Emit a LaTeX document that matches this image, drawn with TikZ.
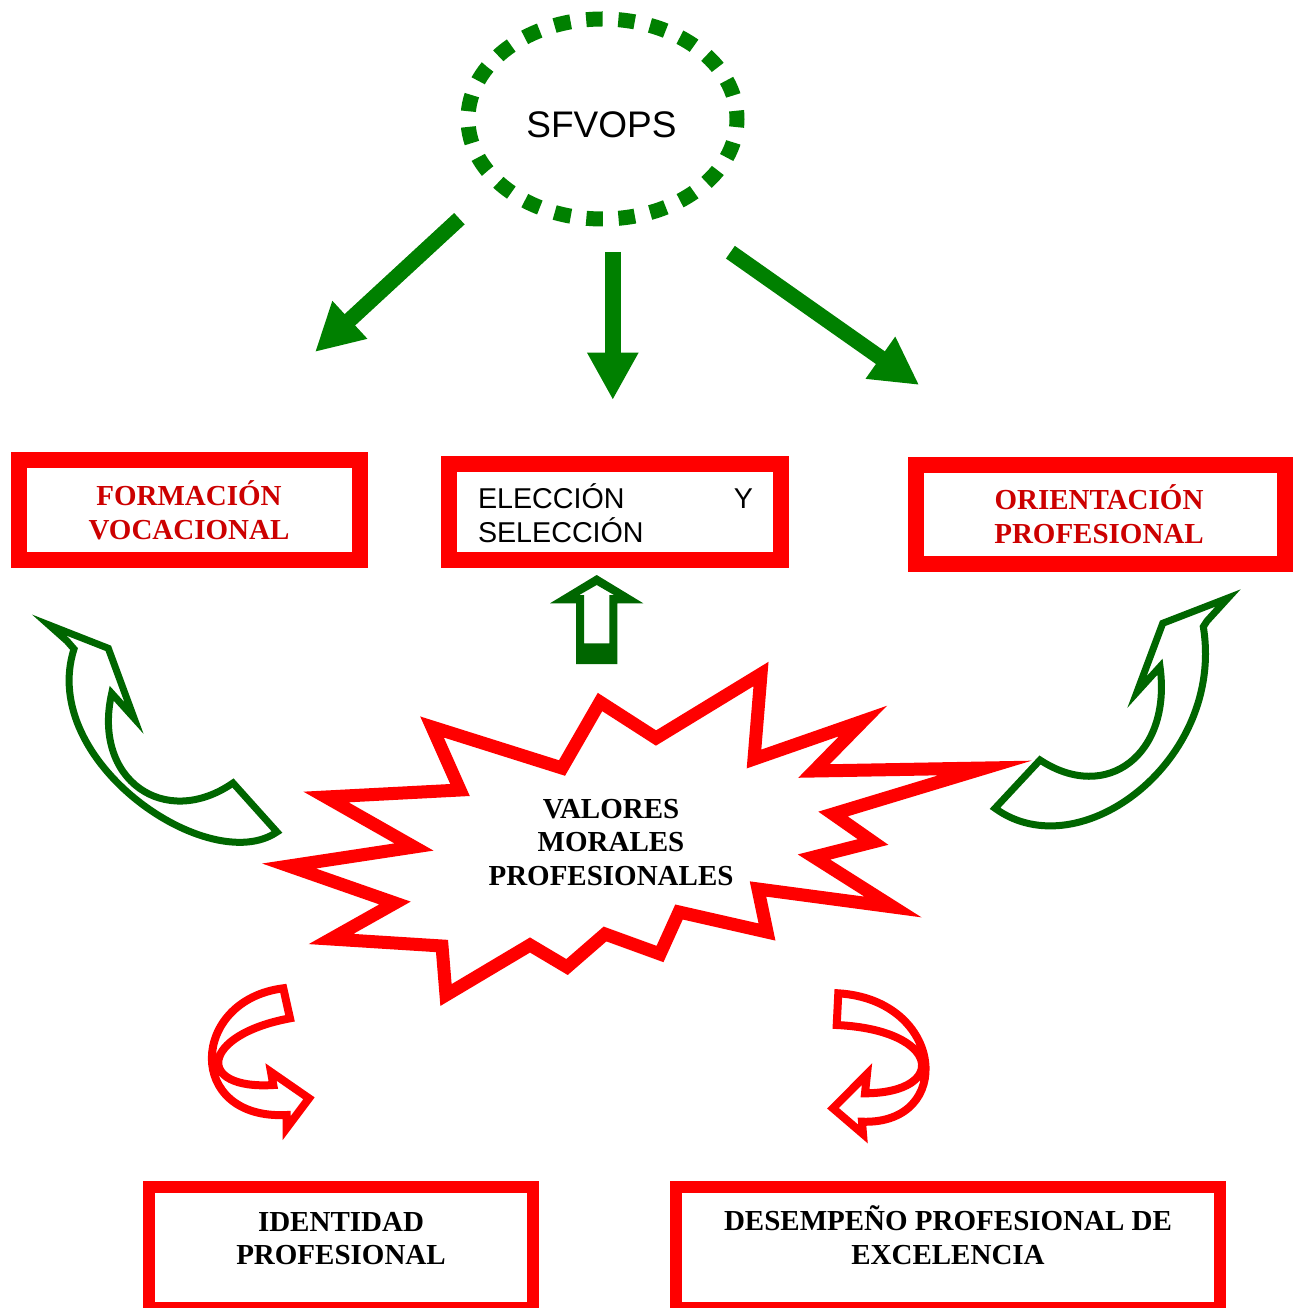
\documentclass[tikz,border=0pt]{standalone}
\usepackage{fontspec}
\setmainfont{Liberation Serif}
\newfontfamily\arialfont{Liberation Sans}
\usetikzlibrary{arrows.meta,shapes.geometric}
\definecolor{arrowgreen}{RGB}{0,128,0}
\definecolor{darkgreen}{RGB}{0,102,0}
\definecolor{boxred}{RGB}{255,0,0}
\definecolor{textred}{RGB}{204,0,0}
\newcommand{\boxline}{12pt}
\newcommand{\lowline}{9pt}
\newcommand{\lblfont}{\bfseries\fontsize{21.75}{25.2}\selectfont}

\begin{document}
\begin{tikzpicture}[x=0.75pt, y=-0.75pt,
    redbox/.style={draw=boxred, rectangle, inner sep=0pt},
    lbl/.style={font=\lblfont, align=center, inner sep=0pt},
    greenarrow/.style={arrowgreen, line width=11.6pt, -{Triangle[length=35.6pt, width=36pt]}},
    curvegreen/.style={darkgreen, line width=5.25pt, line join=miter},
    curvered/.style={boxred, line width=6pt, line join=miter}]
        \useasboundingbox (0,0) rectangle (1300,1308);
        \clip (0,0) rectangle (1300,1308);

        %source
        \node[draw=arrowgreen, ellipse, line width=11.25pt, dash pattern=on 12.4pt off 11.76pt, dash phase=6.2pt,
              minimum width=201.75pt, minimum height=150pt, name=sfvops] at (602.5,119) {};
        \node[font=\arialfont\fontsize{27.75}{33}\selectfont, inner sep=0pt, name=sfvopstxt] at (601.5,125) {SFVOPS};

        %straight arrows
        \coordinate (leftstart)  at (459.4,218.7);  \coordinate (leftend)  at (315,352);
        \coordinate (midstart)   at (612.8,252);    \coordinate (midend)   at (612.8,400);
        \coordinate (rightstart) at (730.4,252.2);  \coordinate (rightend) at (919.2,385);
        \draw[greenarrow] (leftstart)  -- (leftend);
        \draw[greenarrow] (midstart)   -- (midend);
        \draw[greenarrow] (rightstart) -- (rightend);

        %boxes
        \node[redbox, line width=\boxline, minimum width=255.75pt, minimum height=75pt  , name=formbox] at (189.5 ,510   ) {};
        \node[redbox, line width=\boxline, minimum width=248.9pt , minimum height=71.9pt, name=elecbox] at (615.4 ,512.4 ) {};
        \node[redbox, line width=\boxline, minimum width=276.5pt , minimum height=74.4pt, name=oribox ] at (1100.3,514.1 ) {};
        \node[redbox, line width=\lowline, minimum width=288pt   , minimum height=90.75pt, name=idbox ] at (341   ,1247.5) {};
        \node[redbox, line width=\lowline, minimum width=408pt   , minimum height=90.75pt, name=desbox] at (948   ,1247.5) {};

        %labels
        \node[lbl, textred, name=formtxt] at (189 ,510) {FORMACIÓN\\VOCACIONAL};
        \node[font=\arialfont\fontsize{21.5}{25.5}\selectfont, align=left, text width=206.25pt, inner sep=0pt,
              name=electxt] at (615.5,513) {ELECCIÓN\hfill Y\\SELECCIÓN};
        \node[lbl, textred, name=oritxt ] at (1099,514) {ORIENTACIÓN\\PROFESIONAL};
        \node[lbl, name=idtxt ] at (341,1238.5) {IDENTIDAD\\PROFESIONAL};
        \node[lbl, name=destxt] at (948,1235  ) {DESEMPEÑO PROFESIONAL DE\\EXCELENCIA};

        %star
        \draw[boxred, line width=9.75pt, line join=miter]
            (432,727) -- (562,768) -- (600,702) -- (656,738) -- (761,674) -- (754,759) -- (863,721)
            -- (814,771) -- (985,768) -- (833,814) -- (873,842) -- (814,857) -- (893,907) -- (758,889)
            -- (767,932) -- (679,912) -- (660,954) -- (605,934) -- (567,967) -- (530,945) -- (446,995)
            -- (442,946) -- (331,939) -- (395,903) -- (289,866) -- (414,847) -- (326,797) -- (460,790) -- cycle;
        \node[lbl, name=valtxt] at (611,842.5) {VALORES\\MORALES\\PROFESIONALES};

        %up arrow
        \fill[darkgreen, even odd rule]
            (596.7,575) -- (643.3,603.3) -- (617.3,603.3) -- (617.3,664) -- (576,664) -- (576,603.3) -- (550,603.3) -- cycle
            (596.7,585) -- (614,595) -- (609.3,595) -- (609.3,643.3) -- (584,643.3) -- (584,595) -- (579.3,595) -- cycle;

        %curved green arrows
        \draw[curvegreen] (49,625) -- (108.3,648.3) -- (134,718) -- (111.7,693.3)
            .. controls (92,780) and (165,830) .. (233,783) -- (277,832)
            .. controls (210,878) and (38,762) .. (74,649) -- (67,641) -- cycle;
        \draw[curvegreen] (1228,598) -- (1162.7,623.3) -- (1137,692) -- (1160,666.7)
            .. controls (1172,754) and (1107,804) .. (1040,760) -- (995,808.3)
            .. controls (1080,870) and (1225,760) .. (1203.3,626.7) -- (1207,621) -- cycle;

        %curved red arrows
        \draw[curvered] (283.3,988.3) .. controls (190,1000) and (185,1120) .. (286.7,1115)
            -- (286.7,1128) -- (309,1098.3) -- (271,1072) -- (273.3,1085)
            .. controls (195,1090) and (200,1035) .. (290,1018.3) -- cycle;
        \draw[curvered] (838.3,993.3) .. controls (945,1000) and (955,1125) .. (862,1121.7)
            -- (863,1134) -- (833,1108.3) -- (867,1074) -- (865,1093.3)
            .. controls (948,1093) and (942,1030) .. (836.7,1025) -- cycle;
    \end{tikzpicture}
\end{document}
